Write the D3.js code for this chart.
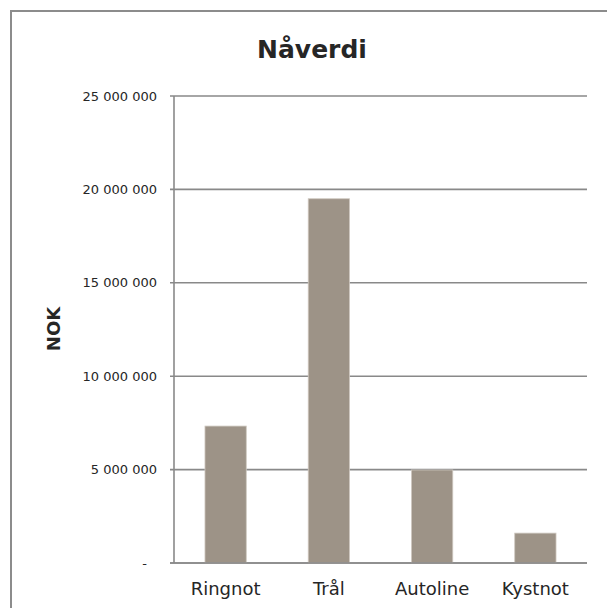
<!DOCTYPE html>
<html>
<head>
<meta charset="utf-8">
<script src="https://cdn.jsdelivr.net/npm/d3@7"></script>
<style>
  body { margin: 0; background: #fff; }
  text { font-family: "DejaVu Sans", Verdana, sans-serif; fill: #262626; }
</style>
</head>
<body>
<div id="chart"></div>
<script>
var width = 607, height = 608;
var margin = {top: 96, right: 20, bottom: 45, left: 174};

var categories = ["Ringnot", "Trål", "Autoline", "Kystnot"];
var values = [7330000, 19500000, 4980000, 1600000];
var yTicks = [0, 5000000, 10000000, 15000000, 20000000, 25000000];

var svg = d3.select("#chart")
  .append("svg")
  .attr("width", width)
  .attr("height", height);

// outer frame (runs off the bottom/right edge like the source)
svg.append("rect")
  .attr("x", 11)
  .attr("y", 11)
  .attr("width", width + 10)
  .attr("height", height + 10)
  .attr("fill", "none")
  .attr("stroke", "#8c8c8c")
  .attr("stroke-width", 2);

var x = d3.scaleBand()
  .domain(categories)
  .range([margin.left, 587])
  .paddingInner(0.6)
  .paddingOuter(0.3);

var y = d3.scaleLinear()
  .domain([0, 25000000])
  .range([563, margin.top]);

var fmt = function(d){
  if (d === 0) return "-";
  return d3.format(",")(d).replace(/,/g, " ");
};

// gridlines
svg.append("g")
  .selectAll("line")
  .data(yTicks)
  .enter()
  .append("line")
  .attr("x1", margin.left - 4)
  .attr("x2", 587)
  .attr("y1", function(d){ return y(d); })
  .attr("y2", function(d){ return y(d); })
  .attr("stroke", "#898989")
  .attr("stroke-width", 1.6);

// y axis line
svg.append("line")
  .attr("x1", margin.left)
  .attr("x2", margin.left)
  .attr("y1", y(25000000))
  .attr("y2", y(0))
  .attr("stroke", "#898989")
  .attr("stroke-width", 1.6);

// tick labels
svg.append("g")
  .selectAll("text")
  .data(yTicks)
  .enter()
  .append("text")
  .text(fmt)
  .attr("x", function(d){ return d === 0 ? 147 : 157; })
  .attr("y", function(d){ return y(d); })
  .attr("dy", "0.35em")
  .attr("text-anchor", "end")
  .attr("font-size", "13px");

// bars
svg.append("g")
  .selectAll("rect")
  .data(values)
  .enter()
  .append("rect")
  .attr("x", function(d, i){ return x(categories[i]); })
  .attr("y", function(d){ return y(d); })
  .attr("width", x.bandwidth())
  .attr("height", function(d){ return y(0) - y(d); })
  .attr("fill", "#9d9387")
  .attr("stroke", "#cfc8c0")
  .attr("stroke-width", 0.8);

// redraw baseline over bars
svg.append("line")
  .attr("x1", margin.left - 4)
  .attr("x2", 587)
  .attr("y1", y(0))
  .attr("y2", y(0))
  .attr("stroke", "#898989")
  .attr("stroke-width", 1.6);

// category labels
svg.append("g")
  .selectAll("text")
  .data(categories)
  .enter()
  .append("text")
  .text(function(d){ return d; })
  .attr("x", function(d){ return x(d) + x.bandwidth() / 2; })
  .attr("y", 595)
  .attr("text-anchor", "middle")
  .attr("font-size", "18px");

// title
svg.append("text")
  .text("Nåverdi")
  .attr("x", 312)
  .attr("y", 58)
  .attr("text-anchor", "middle")
  .attr("font-size", "25px")
  .attr("font-weight", "bold");

// y label
svg.append("text")
  .text("NOK")
  .attr("transform", "translate(60,329) rotate(-90)")
  .attr("text-anchor", "middle")
  .attr("font-size", "18px")
  .attr("font-weight", "bold");
</script>
</body>
</html>
